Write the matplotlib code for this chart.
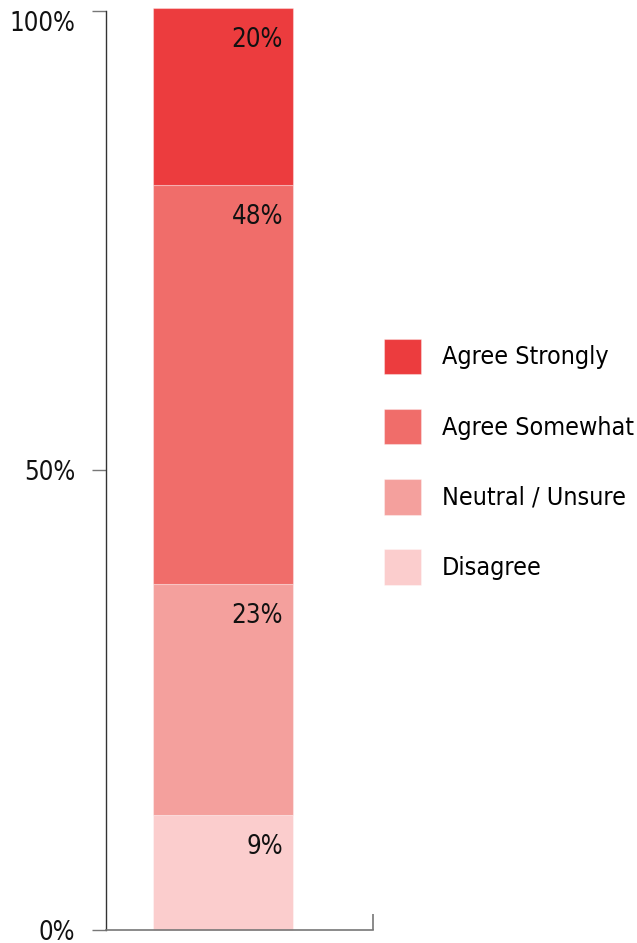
import matplotlib
matplotlib.use("Agg")
import matplotlib.pyplot as plt
from matplotlib.patches import Patch

plt.rcParams['font.family'] = ['DejaVu Sans']
plt.rcParams['font.stretch'] = 'condensed'

# Data (bottom to top)
categories = ["Disagree", "Neutral / Unsure", "Agree Somewhat", "Agree Strongly"]
heights = [12.5, 25.1, 43.5, 19.2]          # drawn segment heights (% of axis)
value_labels = ["9%", "23%", "48%", "20%"]  # printed labels
colors = ["#FBCDCD", "#F4A09D", "#F06D6A", "#EC3C3E"]
ytick_vals = [0, 50, 100]
ytick_labels = ["0%", "50%", "100%"]

W, H = 637, 943
fig = plt.figure(figsize=(W / 100, H / 100), dpi=100)
ax = fig.add_axes([106 / W, 13.5 / H, (373 - 106) / W, (932 - 13.5) / H])

x_center = 0.438
bar_w = 0.524
bottom = 0
for cat, h, lab, c in zip(categories, heights, value_labels, colors):
    ax.bar(x_center, h, width=bar_w, bottom=bottom, color=c,
           edgecolor=(1, 1, 1, 0.35), linewidth=0.8, clip_on=False, label=cat)
    ax.annotate(lab, xy=(x_center + bar_w / 2, bottom + h), xytext=(-10, -19),
                textcoords='offset pixels', ha='right', va='top',
                fontsize=18.5, color='#111111', annotation_clip=False)
    bottom += h

ax.set_xlim(0, 1)
ax.set_ylim(0, 100)

for s in ['top', 'right']:
    ax.spines[s].set_visible(False)
ax.spines['left'].set_color('#333333')
ax.spines['bottom'].set_color('#777777')
ax.spines['left'].set_linewidth(1.0)
ax.spines['bottom'].set_linewidth(1.2)

ax.set_yticks(ytick_vals)
ax.set_yticklabels(ytick_labels)
ax.tick_params(axis='y', length=10, width=1.0, color='#777777', pad=12,
               labelsize=18.5, labelcolor='#111111')
for t in ax.get_yticklabels():
    if t.get_text() == "100%":
        t.set_va('top')

ax.set_xticks([1.0])
ax.set_xticklabels([""])
ax.tick_params(axis='x', direction='in', length=11.5, width=1.2, color='#777777')

handles = [Patch(facecolor=c, edgecolor=(1, 1, 1, 0.35), linewidth=0.8)
           for c in colors[::-1]]
fig.legend(handles, categories[::-1], loc='upper left',
           bbox_to_anchor=(384 / W, 1 - 338.5 / H), frameon=False,
           fontsize=18, handlelength=1.48, handleheight=1.83,
           labelspacing=1.37, handletextpad=0.84, borderpad=0, borderaxespad=0)

fig.savefig("out.png", dpi=100)
